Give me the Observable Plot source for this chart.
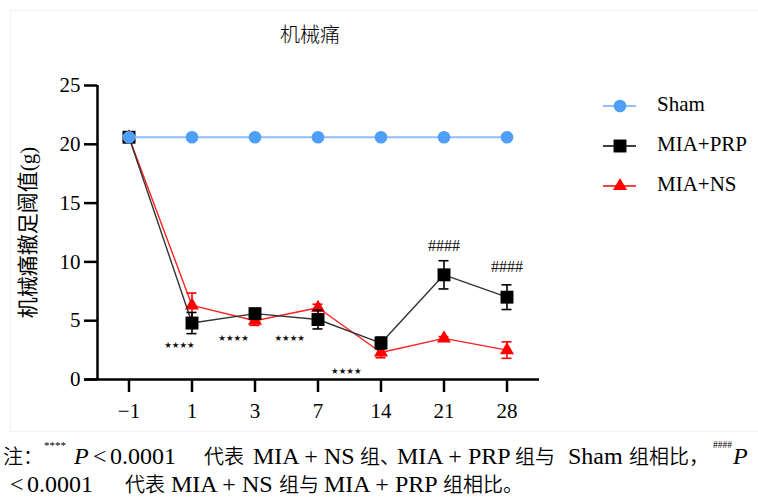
<!DOCTYPE html>
<html>
<head>
<meta charset="utf-8">
<script src="https://cdn.jsdelivr.net/npm/d3@7"></script>
<script src="https://cdn.jsdelivr.net/npm/@observablehq/plot@0.6"></script>
<style>
  html, body { margin: 0; padding: 0; background: #fff; }
  #wrap { position: relative; width: 758px; height: 499px; overflow: hidden;
          font-family: "Liberation Serif", "Noto Sans CJK SC", serif; color: #000; }
  #frame { position: absolute; left: 10px; top: 10px; width: 760px; height: 422px;
           border: 1px solid #f3f3f3; box-sizing: border-box; }
  #title { position: absolute; left: 250px; width: 120px; text-align: center; top: 19px;
           font-size: 20px; font-family: "Noto Sans CJK SC", sans-serif; font-weight: 300; }
  #legend { position: absolute; left: 600px; top: 90px; }
  .row { position: absolute; left: 0; height: 30px; width: 160px; }
  .row svg { position: absolute; left: 0; top: 0; }
  .row span { position: absolute; left: 57px; top: 2px; font-size: 21px; white-space: nowrap; }
  .seg { position: absolute; white-space: nowrap; font-size: 24px; line-height: 22px; height: 22px; }
  .seg.c { font-family: "Noto Sans CJK SC", sans-serif; font-size: 20px; font-weight: 350; }
  .seg.i { font-style: italic; }
  .seg.s { font-size: 11px; line-height: 10px; height: 10px; }
  #plot { position: absolute; left: 0; top: 0; }
</style>
</head>
<body>
<div id="wrap">
  <div id="frame"></div>
  <div id="plot"></div>
  <div id="title"></div>
  <div id="legend"></div>
  <div id="caption"></div>
</div>
<script>
// ---- data ----
const dayLabels = ["−1", "1", "3", "7", "14", "21", "28"];
const seriesNames = ["Sham", "MIA+PRP", "MIA+NS"];
const shamValues = [20.6, 20.6, 20.6, 20.6, 20.6, 20.6, 20.6];
const prpValues  = [20.6, 4.8, 5.6, 5.1, 3.1, 8.9, 7.0];
const prpErrors  = [0, 0.9, 0.35, 0.8, 0.5, 1.2, 1.05];
const nsValues   = [20.6, 6.3, 5.0, 6.1, 2.3, 3.5, 2.5];
const nsErrors   = [0, 1.05, 0.4, 0.3, 0.45, 0.15, 0.7];
const starX = [0.80, 1.66, 2.55, 3.45];
const starY = [2.9, 3.5, 3.5, 0.7];
const hashX = [5, 6];
const hashY = [11.4, 9.6];
const yTicks = [0, 5, 10, 15, 20, 25];
const titleText = "机械痛";
const yLabel = "机械痛撤足阈值(g)";

// caption pieces: [text, kind]  (kind: l = latin, c = CJK, i = italic, s = superscript)
const captionLine1 = [["注：","c"],["****","s"],["P","i"],["<","l"],["0.0001","l"],["代表","c"],["MIA + NS","l"],
  ["组、","c"],["MIA + PRP","l"],["组与","c"],["Sham","l"],["组相比，","c"],["####","s"],["P","i"]];
const captionLine2 = [["<","l"],["0.0001","l"],["代表","c"],["MIA + NS","l"],["组与","c"],["MIA + PRP","l"],["组相比。","c"]];
// horizontal placement of the caption pieces (page layout, px)
const captionX1 = [3, 44, 74, 93, 110, 204, 253, 360, 397, 515, 568, 629, 713, 733];
const captionX2 = [10, 27, 125, 171, 279, 324, 443];

const colors = { "Sham": "#4f9ef7", "MIA+PRP": "#000000", "MIA+NS": "#ff0000" };
const lineColors = { "Sham": "#8fbff7", "MIA+PRP": "#333333", "MIA+NS": "#ff2020" };
const symbols = { "Sham": "circle", "MIA+PRP": "square", "MIA+NS": "triangle" };
const radii = { "Sham": 6.3, "MIA+PRP": 7.3, "MIA+NS": 5.2 };

const mk = (vals, errs, name) => vals.map((v, i) => ({ i, v, e: errs ? errs[i] : 0, name }));
const sham = mk(shamValues, null, "Sham");
const prp = mk(prpValues, prpErrors, "MIA+PRP");
const ns = mk(nsValues, nsErrors, "MIA+NS");
const stars = starX.map((x, k) => ({ x, y: starY[k] }));
const hashes = hashX.map((x, k) => ({ x, y: hashY[k] }));

function seriesMarks(data, name) {
  const c = colors[name];
  const eb = data.filter(d => d.e > 0);
  return [
    Plot.line(data, { x: "i", y: "v", stroke: lineColors[name], strokeWidth: name === "Sham" ? 2 : 1.4 }),
    Plot.ruleX(eb, { x: "i", y1: d => d.v - d.e, y2: d => d.v + d.e, stroke: c, strokeWidth: 1.6 }),
    Plot.ruleY(eb, { y: d => d.v + d.e, x1: "i", x2: "i", insetLeft: -5, insetRight: -5, stroke: c, strokeWidth: 1.6 }),
    Plot.ruleY(eb, { y: d => d.v - d.e, x1: "i", x2: "i", insetLeft: -5, insetRight: -5, stroke: c, strokeWidth: 1.6 }),
    Plot.dot(data, { x: "i", y: "v", symbol: () => symbols[name], r: radii[name], fill: c, stroke: "none" })
  ];
}

const chart = Plot.plot({
  width: 758,
  height: 432,
  marginLeft: 97,
  marginRight: 220,
  marginTop: 85,
  marginBottom: 53,
  style: { fontFamily: "'Liberation Serif', 'Noto Sans CJK SC', serif", fontSize: "21px", background: "transparent", overflow: "visible" },
  x: { type: "linear", domain: [-0.5, 6.5] },
  y: { domain: [0, 25] },
  symbol: { type: "identity" },
  marks: [
    Plot.axisY({ ticks: yTicks, tickSize: 13, tickPadding: 4, strokeWidth: 2.5, fontSize: 21,
                 label: yLabel, labelAnchor: "center", labelArrow: "none", labelOffset: 77 }),
    Plot.axisX({ ticks: d3.range(dayLabels.length), tickFormat: i => dayLabels[i], tickSize: 13,
                 tickPadding: 11, strokeWidth: 2.5, fontSize: 21, label: null }),
    Plot.ruleX([-0.5], { y1: 0, y2: 25, strokeWidth: 2.5 }),
    Plot.ruleY([0], { strokeWidth: 2.5, insetLeft: -13, insetRight: -1 }),
    ...seriesMarks(ns, "MIA+NS"),
    ...seriesMarks(prp, "MIA+PRP"),
    ...seriesMarks(sham, "Sham"),
    Plot.text(stars, { x: "x", y: "y", text: () => "★★★★", fontSize: 8.5, fontFamily: "DejaVu Sans", fill: "#111" }),
    Plot.text(hashes, { x: "x", y: "y", text: () => "####", fontSize: 16, fill: "#111" })
  ]
});
document.getElementById("plot").appendChild(chart);
document.getElementById("title").textContent = titleText;

// legend
const legend = document.getElementById("legend");
seriesNames.forEach((name, k) => {
  const row = document.createElement("div");
  row.className = "row";
  row.style.top = (k * 40) + "px";
  const s = d3.create("svg").attr("width", 45).attr("height", 30);
  s.append("line").attr("x1", 3).attr("x2", 36).attr("y1", 16).attr("y2", 16)
    .attr("stroke", name === "Sham" ? lineColors[name] : colors[name]).attr("stroke-width", name === "Sham" ? 2 : 1.6);
  const sym = { circle: d3.symbolCircle, square: d3.symbolSquare, triangle: d3.symbolTriangle }[symbols[name]];
  s.append("path").attr("transform", "translate(20,16)")
    .attr("d", d3.symbol(sym, Math.PI * radii[name] * radii[name])())
    .attr("fill", colors[name]);
  row.appendChild(s.node());
  const t = document.createElement("span");
  t.textContent = name;
  row.appendChild(t);
  legend.appendChild(row);
});

// caption
const cap = document.getElementById("caption");
function placeLine(pieces, xs, top) {
  pieces.forEach(([txt, kind], k) => {
    const d = document.createElement("div");
    d.className = "seg" + (kind === "l" ? "" : " " + kind);
    d.textContent = txt;
    d.style.left = xs[k] + "px";
    d.style.top = (kind === "s" ? top - 5 : top) + "px";
    if (kind === "s" && txt === "####") d.style.fontSize = "9.5px";
    cap.appendChild(d);
  });
}
placeLine(captionLine1, captionX1, 445);
placeLine(captionLine2, captionX2, 473);
</script>
</body>
</html>
